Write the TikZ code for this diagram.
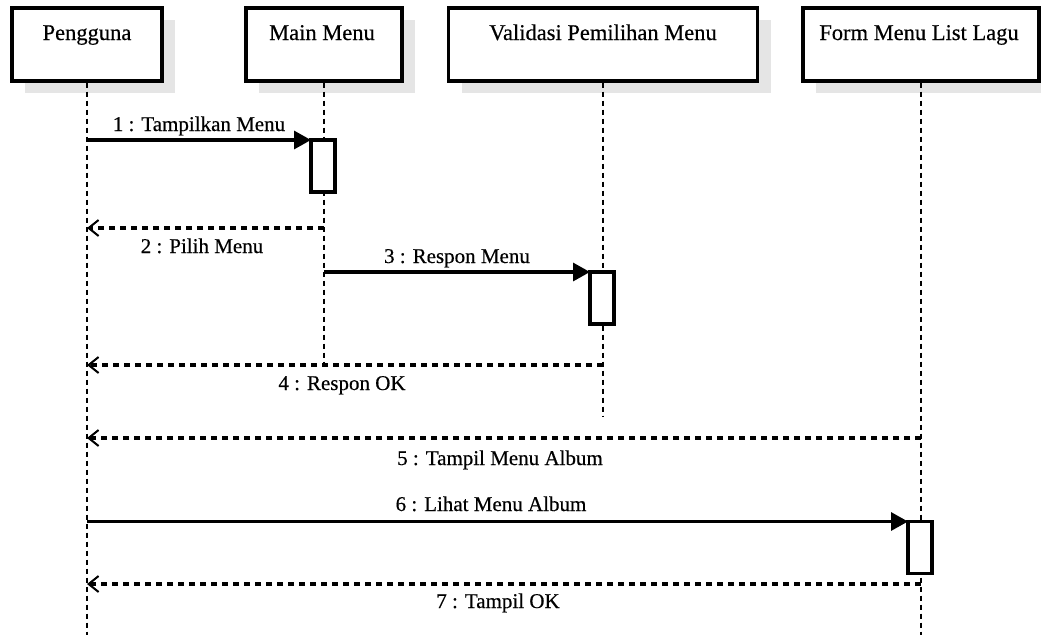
\documentclass[tikz,border=0pt]{standalone}
\usepackage{fontspec}
\setmainfont{Liberation Serif}[FakeBold=0.4]
\usetikzlibrary{arrows.meta,shadows}

\begin{document}
\begin{tikzpicture}[x=1pt,y=-1pt,
  actor/.style={draw=black, line width=3.2pt, fill=white, minimum height=73pt,
    drop shadow={shadow xshift=13pt, shadow yshift=-12pt, fill=black!10, opacity=1}},
  actorlabel/.style={font=\fontsize{22.5}{26}\selectfont, anchor=base, inner sep=0pt},
  lifeline/.style={line width=2.2pt, dash pattern=on 5pt off 4pt},
  activation/.style={draw=black, line width=3.2pt, fill=white, minimum width=24pt,
    minimum height=52pt, inner sep=0pt, outer sep=0pt},
  call/.style={line width=3.2pt, -{Triangle[length=17pt,width=18pt]}},
  reply/.style={line width=3.2pt, dash pattern=on 6.5pt off 4.5pt,
    -{Straight Barb[length=10pt,width=16pt,line width=2pt]}},
  msglabel/.style={font=\fontsize{21}{24}\selectfont, anchor=base, inner sep=0pt}]

\useasboundingbox (0,0) rectangle (1041,635);

% participants
\node[actor, minimum width=150pt] (user)  at (87,44.5)  {};
\node[actor, minimum width=156pt] (main)  at (324,44.5) {};
\node[actor, minimum width=309pt] (valid) at (603,44.5) {};
\node[actor, minimum width=236pt] (form)  at (921,44.5) {};

\node[actorlabel] (userT)  at (87,40)  {Pengguna};
\node[actorlabel] (mainT)  at (322,40) {Main Menu};
\node[actorlabel] (validT) at (603,40) {Validasi Pemilihan Menu};
\node[actorlabel] (formT)  at (919,40) {Form Menu List Lagu};

% lifeline ends
\coordinate (userE)  at (87,635);
\coordinate (mainE)  at (324,370);
\coordinate (validE) at (603,416);
\coordinate (formE)  at (921,635);

\draw[lifeline] (user.south)  -- (userE);
\draw[lifeline] (main.south)  -- (mainE);
\draw[lifeline] (valid.south) -- (validE);
\draw[lifeline] (form.south)  -- (formE);

% activation bars
\node[activation] (act1) at (323,166) {};
\node[activation] (act2) at (602,298) {};
\node[activation] (act3) at (920,547.5) {};

% message end points on the lifelines
\coordinate (u1) at (87,140);
\coordinate (u2) at (87,228);
\coordinate (m2) at (324,228);
\coordinate (m3) at (324,272);
\coordinate (u4) at (87,365);
\coordinate (v4) at (603,365);
\coordinate (u5) at (87,438);
\coordinate (f5) at (921,438);
\coordinate (u6) at (87,521.5);
\coordinate (u7) at (87,584);
\coordinate (f7) at (921,584);

% messages
\draw[call]  (u1) -- (act1.north west);
\draw[reply] (m2) -- (u2);
\draw[call]  (m3) -- (act2.north west);
\draw[reply] (v4) -- (u4);
\draw[reply] (f5) -- (u5);
\draw[call]  (u6) -- (act3.north west);
\draw[reply] (f7) -- (u7);

% message labels
\node[msglabel] (l1) at (199,131) {1 : Tampilkan Menu};
\node[msglabel] (l2) at (202,253) {2 : Pilih Menu};
\node[msglabel] (l3) at (457,263) {3 : Respon Menu};
\node[msglabel] (l4) at (342,390) {4 : Respon OK};
\node[msglabel] (l5) at (500,465) {5 : Tampil Menu Album};
\node[msglabel] (l6) at (491,511) {6 : Lihat Menu Album};
\node[msglabel] (l7) at (498,608) {7 : Tampil OK};
\end{tikzpicture}
\end{document}
